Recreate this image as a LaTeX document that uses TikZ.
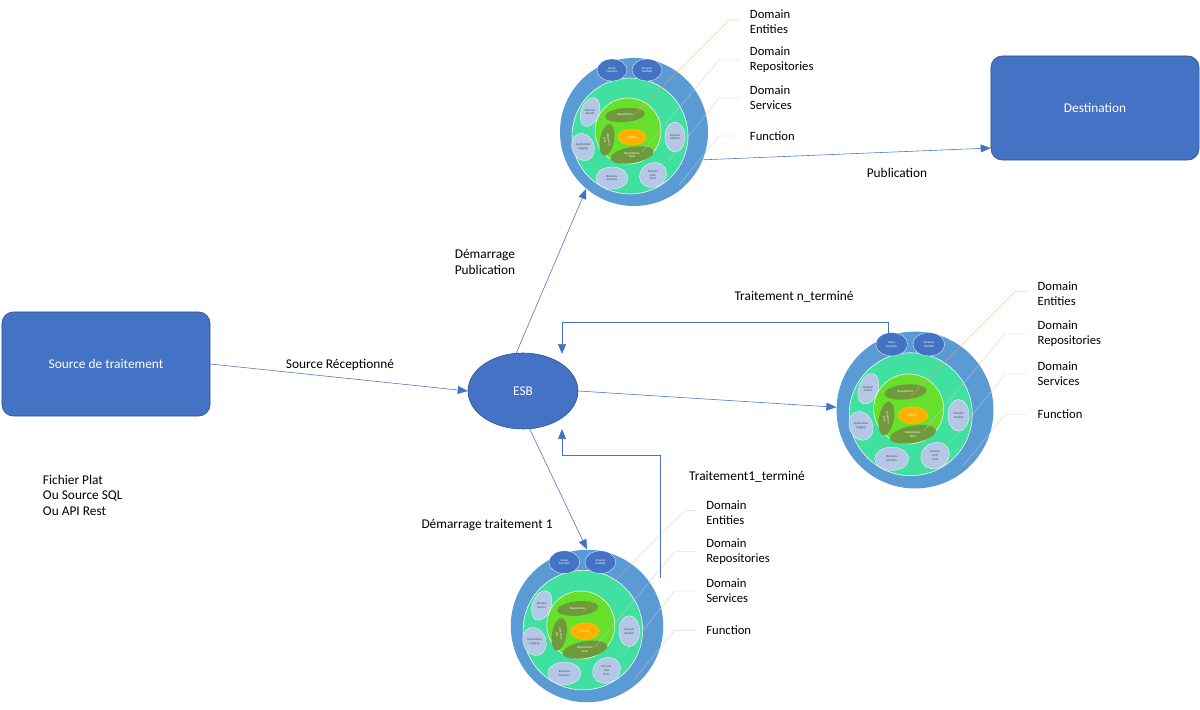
\documentclass[tikz,border=0pt]{standalone}
\usepackage{fontspec}
\setmainfont{Carlito}
\usetikzlibrary{positioning, calc, arrows.meta, shapes}
\definecolor{boxblue}{HTML}{4472C4}
\definecolor{ringblue}{HTML}{5B9BD5}
\definecolor{mint}{HTML}{3FE0A0}
\definecolor{lime}{HTML}{66E02A}
\definecolor{olive}{HTML}{6E9A3C}
\definecolor{amber}{HTML}{FFB000}
\definecolor{lavender}{HTML}{B4C7E7}
\definecolor{leader}{HTML}{C8C8C8}
\tikzset{
every node/.style = {font = \fontsize{9.5}{11}\selectfont},
block/.style = {rectangle, rounded corners = 8pt, draw = boxblue!70!black, fill = boxblue,
	text = white, minimum width = 5.2cm, minimum height = 2.6cm},
flow/.style = {-{Triangle[length = 2.5mm, width = 2mm]}, boxblue, thin},
tiny/.style = {font = \fontsize{2.2}{2.6}\selectfont, align = center, text = white},
outer/.style = {circle, fill = ringblue, inner sep = 0pt},
layer/.style = {align = left, anchor = west, font = \fontsize{9}{10.5}\selectfont}
}
% onion: name, x, y, scale
\newcommand{\onion}[4]{%
\node [outer, minimum size = {3.7cm*#4}] (#1) at (#2,#3) {};
\begin{scope}[shift = {(#2,#3)}, scale = #4]
\fill [mint, draw = white, thin] (-4,4) circle (58);
\fill [lime, draw = white, thin] (-6,-1) circle (33);
\fill [boxblue, draw = white, very thin] (-22,-62) ellipse [x radius = 15, y radius = 11];
\fill [boxblue, draw = white, very thin] (13,-62) ellipse [x radius = 15, y radius = 11];
\node [tiny] at (-22,-62) {Azure\\Function};
\node [tiny] at (13,-62) {Amazon\\Lambda};
\fill [olive, rotate around = {5:(-9,-17)}] (-9,-17) ellipse [x radius = 20, y radius = 7];
\fill [olive, rotate around = {-10:(-27,8)}] (-27,8) ellipse [x radius = 7, y radius = 16];
\fill [olive, rotate around = {10:(-2,23)}] (-2,23) ellipse [x radius = 22, y radius = 8];
\fill [amber, draw = yellow!60!orange] (-2,5) ellipse [x radius = 14, y radius = 8];
\node [tiny] at (-9,-17) {Repositories};
\node [tiny, rotate = -80] at (-27,8) {Infrastruc-\\ture};
\node [tiny] at (-2,23) {Repositories\\Tests};
\node [tiny] at (-2,5) {Entities};
\foreach \px/\py/\rx/\ry/\ang/\txt in {-44/-20/9/15/-20/Domain\\Events, -51/15/11/14/20/Application\\Logging,
	-22/46/16/11/0/Business\\Services, 19/43/14/12/30/Domain\\Unit\\Tests, 41/5/10/15/0/Domain\\Models} {
	\fill [lavender, draw = white, very thin, rotate around = {\ang:(\px,\py)}] (\px,\py) ellipse [x radius = \rx, y radius = \ry];
	\node [tiny, text = black!70] at (\px,\py) {\txt};
}
\draw [leader!60!orange, very thin] (-4,-13) -- (95,-112) -- (106,-112);
\draw [leader, very thin] (8,20) -- (85,-72) -- (106,-72);
\draw [leader, very thin] (34,30) -- (85,-34) -- (106,-34);
\draw [leader, very thin] (45,53) -- (85,4) -- (106,4);
\end{scope}
\node [layer] at ($(#2,#3)+(111*#4,-110*#4)$) {Domain\\Entities};
\node [layer] at ($(#2,#3)+(111*#4,-72*#4)$) {Domain\\Repositories};
\node [layer] at ($(#2,#3)+(111*#4,-34*#4)$) {Domain\\Services};
\node [layer] at ($(#2,#3)+(111*#4,4*#4)$) {Function};
}

\begin{document}
\begin{tikzpicture}[x = 0.025cm, y = -0.025cm]
\useasboundingbox (0,0) rectangle (1200,709);

%% The blocks
\node [block] (source) at (106,364) {Source de traitement};
\node [block] (dest) at (1095,108) {Destination};
\node [ellipse, draw = boxblue!70!black, fill = boxblue, text = white,
	minimum width = 2.75cm, minimum height = 1.9cm] (esb) at (523,391) {ESB};
\node [align = left, anchor = west] (kinds) at (38,495) {Fichier Plat\\Ou Source SQL\\Ou API Rest};

%% The onions
\onion{pub}{634}{132}{1}
\onion{tn}{915}{410}{1.06}
\onion{t1}{587}{626}{1.03}

%% The flows
\draw [flow] (source.east) -- (esb.west);
\node at (340,365) {Source Réceptionné};
\draw [flow] (esb.100) -- (pub.230);
\node [align = left] at (485,262) {Démarrage\\Publication};
\draw [flow] (pub.-22) -- ([yshift = -1cm]dest.west);
\node at (897,173) {Publication};
\draw [flow] (esb.east) -- (tn.178);
\draw [flow] (esb.-80) -- (t1.north);
\node at (487,525) {Démarrage traitement 1};

%% The returns
\coordinate (t1out) at (660,578);
\draw [flow] (t1out) |- (562,455) -- (562,429);
\node at (747,477) {Traitement1\_terminé};
\draw [flow] (tn.110) |- (562,322) -- (562,354);
\node at (794,297) {Traitement n\_terminé};

\end{tikzpicture}
\end{document}
